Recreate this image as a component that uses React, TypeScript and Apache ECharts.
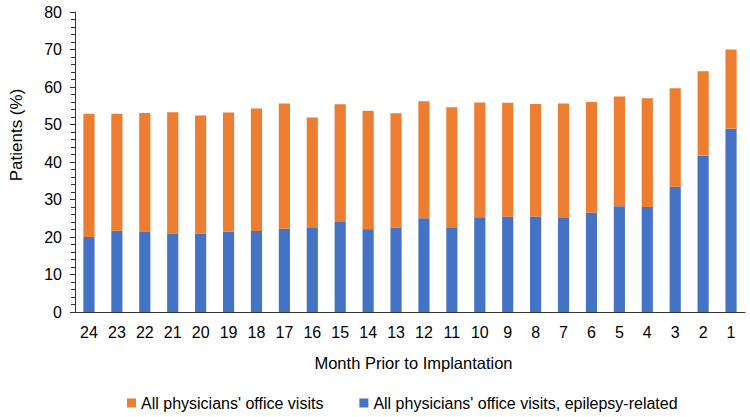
import React, { useEffect, useRef } from "react";
import * as echarts from "echarts";

const months = ["24", "23", "22", "21", "20", "19", "18", "17", "16", "15", "14", "13", "12", "11", "10", "9", "8", "7", "6", "5", "4", "3", "2", "1"];
const totalVisits = [52.9, 52.9, 53.1, 53.3, 52.4, 53.2, 54.3, 55.6, 51.9, 55.4, 53.7, 53.0, 56.2, 54.6, 55.9, 55.8, 55.5, 55.6, 56.0, 57.5, 57.0, 59.7, 64.2, 70.0];
const epilepsyVisits = [20.0, 21.7, 21.5, 20.9, 20.9, 21.5, 21.6, 22.2, 22.4, 24.0, 22.1, 22.5, 25.0, 22.4, 25.3, 25.4, 25.5, 25.1, 26.5, 28.2, 28.0, 33.4, 41.7, 48.9];
const yTicks = { min: 0, max: 80, interval: 10 };

const NAME_ALL = "All physicians' office visits";
const NAME_EPI = "All physicians' office visits, epilepsy-related";

export default function App() {
  const ref = useRef<HTMLDivElement>(null);
  useEffect(() => {
    if (!ref.current) return;
    const chart = echarts.init(ref.current, undefined, { renderer: "svg" });
    const otherVisits = totalVisits.map((t, i) => +(t - epilepsyVisits[i]).toFixed(2));
    const font = "'Liberation Sans', Arial, sans-serif";
    chart.setOption({
      animation: false,
      textStyle: { fontFamily: font },
      grid: { left: 70, right: 5, top: 12, bottom: 105, containLabel: false },
      legend: {
        data: [NAME_ALL, NAME_EPI],
        left: 122,
        top: 390,
        itemWidth: 9,
        itemHeight: 9,
        itemGap: 36,
        icon: "rect",
        textStyle: { fontSize: 16, color: "#000", fontFamily: font },
      },
      xAxis: {
        type: "category",
        data: months,
        name: "Month Prior to Implantation",
        nameLocation: "middle",
        nameGap: 42,
        nameTextStyle: { fontSize: 16.5, color: "#000", fontFamily: font, padding: [0, 0, 0, 7] },
        axisLine: { lineStyle: { color: "#333", width: 1 } },
        axisTick: { show: false },
        axisLabel: { fontSize: 16, color: "#000", margin: 12, interval: 0, fontFamily: font },
      },
      yAxis: {
        type: "value",
        min: yTicks.min,
        max: yTicks.max,
        interval: yTicks.interval,
        name: "Patients (%)",
        nameLocation: "middle",
        nameRotate: 90,
        nameGap: 50,
        nameTextStyle: { fontSize: 17, color: "#000", fontFamily: font, padding: [0, 0, 0, 54] },
        splitLine: { show: false },
        axisLine: { show: true, lineStyle: { color: "#333", width: 1 } },
        axisTick: { show: true, length: 5, lineStyle: { color: "#333" } },
        minorTick: { show: true, splitNumber: 5, length: 4, lineStyle: { color: "#333" } },
        axisLabel: { fontSize: 16, color: "#000", margin: 13, fontFamily: font },
      },
      series: [
        {
          name: NAME_EPI,
          type: "bar",
          stack: "total",
          data: epilepsyVisits,
          barWidth: "40%",
          itemStyle: { color: "#4472C4" },
        },
        {
          name: NAME_ALL,
          type: "bar",
          stack: "total",
          data: otherVisits,
          barWidth: "40%",
          itemStyle: { color: "#ED7D31" },
        },
      ],
    });
    return () => chart.dispose();
  }, []);
  return <div ref={ref} style={{ width: 750, height: 417, position: "absolute", left: 0, top: 0 }} />;
}
